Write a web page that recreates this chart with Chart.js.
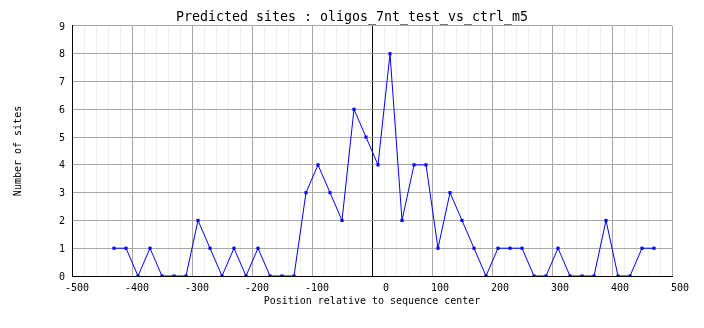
<!DOCTYPE html>
<html>
<head>
<meta charset="utf-8">
<title>Predicted sites</title>
<script src="https://cdn.jsdelivr.net/npm/chart.js@4.4.1/dist/chart.umd.min.js"></script>
<style>
  html, body { margin: 0; padding: 0; background: #fff; }
  canvas { display: block; }
</style>
</head>
<body>
<canvas id="chart" width="704" height="328"></canvas>
<script>
// window centers (bp relative to sequence center)
const positions = [
  -430, -410, -390, -370, -350, -330, -310, -290, -270, -250,
  -230, -210, -190, -170, -150, -130, -110, -90, -70, -50,
  -30, -10, 10, 30, 50, 70, 90, 110, 130, 150,
  170, 190, 210, 230, 250, 270, 290, 310, 330, 350,
  370, 390, 410, 430, 450, 470
]
// number of predicted sites per window
const siteCounts = [
  1, 1, 0, 1, 0, 0, 0, 2, 1, 0,
  1, 0, 1, 0, 0, 0, 3, 4, 3, 2,
  6, 5, 4, 8, 2, 4, 4, 1, 3, 2,
  1, 0, 1, 1, 1, 0, 0, 1, 0, 0,
  0, 2, 0, 0, 1, 1
]
const xMajorTicks = [-500, -400, -300, -200, -100, 0, 100, 200, 300, 400, 500]
const yTicks = [0, 1, 2, 3, 4, 5, 6, 7, 8, 9]

const MONO = "'DejaVu Sans Mono', monospace"

const points = positions.map((x, i) => ({ x: x, y: siteCounts[i] }))

new Chart(document.getElementById('chart'), {
  type: 'line',
  data: {
    datasets: [{
      data: points,
      borderColor: '#0000ff',
      borderWidth: 1,
      backgroundColor: '#0000ff',
      pointStyle: 'rect',
      pointRadius: 2.2,
      pointBorderWidth: 0,
      tension: 0
    }]
  },
  options: {
    responsive: false,
    devicePixelRatio: 1,
    animation: false,
    layout: { padding: 0 },
    plugins: {
      legend: { display: false },
      tooltip: { enabled: false },
      title: {
        display: true,
        text: 'Predicted sites : oligos_7nt_test_vs_ctrl_m5',
        color: '#000',
        font: { family: MONO, size: 13.3, weight: 'normal', lineHeight: 1.2 },
        padding: { top: 10, bottom: 0 }
      }
    },
    scales: {
      x: {
        type: 'linear',
        min: xMajorTicks[0],
        max: xMajorTicks[xMajorTicks.length - 1],
        ticks: {
          stepSize: 20,
          autoSkip: false,
          maxRotation: 0,
          align: 'end',
          labelOffset: 17,
          padding: 6,
          color: '#000',
          font: { family: MONO, size: 10 },
          callback: v => xMajorTicks.includes(v) ? String(v) : ''
        },
        grid: {
          drawTicks: false,
          lineWidth: 1,
          color: ctx => {
            const v = ctx.tick ? ctx.tick.value : null
            if (v === 0 || v === xMajorTicks[0]) return '#000'
            return xMajorTicks.includes(v) ? '#a8a8a8' : '#eeeeee'
          }
        },
        border: { display: true, color: '#000', width: 1 },
        title: {
          display: true,
          text: 'Position relative to sequence center',
          color: '#000',
          font: { family: MONO, size: 10, lineHeight: 1.2 },
          padding: { top: 0, bottom: 21 }
        },
        afterFit: s => { s.height = 52 }
      },
      y: {
        min: yTicks[0],
        max: yTicks[yTicks.length - 1],
        ticks: {
          stepSize: 1,
          padding: 7,
          labelOffset: 1,
          color: '#000',
          font: { family: MONO, size: 10 }
        },
        grid: {
          drawTicks: false,
          lineWidth: 1,
          color: ctx => (ctx.tick && ctx.tick.value === 0) ? '#000' : '#a8a8a8'
        },
        border: { display: true, color: '#000', width: 1 },
        title: {
          display: true,
          text: 'Number of sites',
          color: '#000',
          font: { family: MONO, size: 10, lineHeight: 1.2 },
          padding: { top: 12, bottom: 0 }
        },
        afterFit: s => { s.width = 72 }
      },
      // empty right-hand margin, keeps the title centered on the full canvas
      yRight: {
        position: 'right',
        display: true,
        grid: { display: false, drawTicks: false },
        ticks: { display: false },
        border: { display: false },
        afterFit: s => { s.width = 32 }
      }
    }
  }
})
</script>
</body>
</html>
